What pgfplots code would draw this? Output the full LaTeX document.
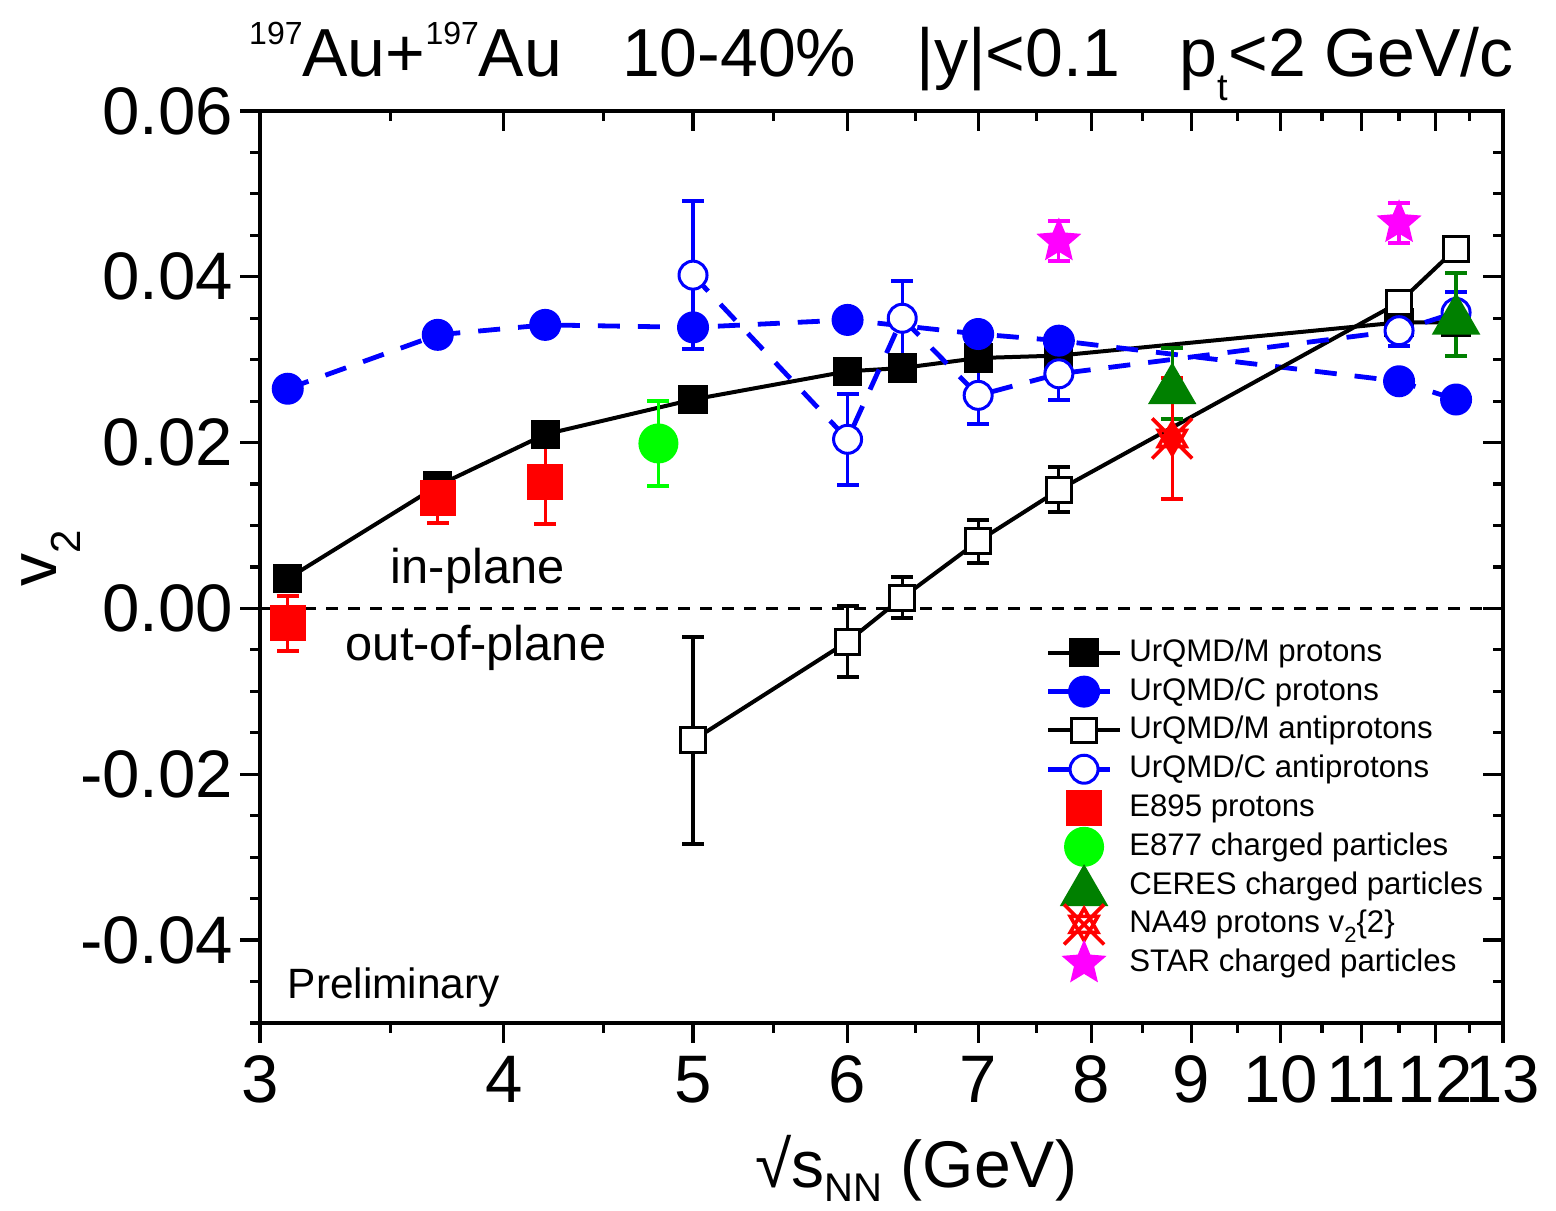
\documentclass[border=0pt]{standalone}
\usepackage{fontspec}
\setmainfont{Liberation Sans}
\usepackage{pgfplots}
\usepackage{pgfplotstable}
\pgfplotsset{compat=1.18}
\usetikzlibrary{plotmarks}

\definecolor{cblue}{RGB}{0,0,255}
\definecolor{cred}{RGB}{255,0,0}
\definecolor{cgreen}{RGB}{0,255,0}
\definecolor{cdgreen}{RGB}{0,128,0}
\definecolor{cmag}{RGB}{255,0,255}

\pgfdeclareplotmark{fstar}{%
  \pgfpathmoveto{\pgfpointpolar{90}{\pgfplotmarksize}}%
  \pgfpathlineto{\pgfpointpolar{126}{0.45\pgfplotmarksize}}%
  \pgfpathlineto{\pgfpointpolar{162}{\pgfplotmarksize}}%
  \pgfpathlineto{\pgfpointpolar{198}{0.45\pgfplotmarksize}}%
  \pgfpathlineto{\pgfpointpolar{234}{\pgfplotmarksize}}%
  \pgfpathlineto{\pgfpointpolar{270}{0.45\pgfplotmarksize}}%
  \pgfpathlineto{\pgfpointpolar{306}{\pgfplotmarksize}}%
  \pgfpathlineto{\pgfpointpolar{342}{0.45\pgfplotmarksize}}%
  \pgfpathlineto{\pgfpointpolar{18}{\pgfplotmarksize}}%
  \pgfpathlineto{\pgfpointpolar{54}{0.45\pgfplotmarksize}}%
  \pgfpathclose
  \pgfusepathqfillstroke
}
\pgfdeclareplotmark{na49}{%
  \pgfpathmoveto{\pgfpoint{-\pgfplotmarksize}{-\pgfplotmarksize}}%
  \pgfpathlineto{\pgfpoint{\pgfplotmarksize}{\pgfplotmarksize}}%
  \pgfpathmoveto{\pgfpoint{-\pgfplotmarksize}{\pgfplotmarksize}}%
  \pgfpathlineto{\pgfpoint{\pgfplotmarksize}{-\pgfplotmarksize}}%
  \pgfpathmoveto{\pgfpointpolar{90}{0.8\pgfplotmarksize}}%
  \pgfpathlineto{\pgfpointpolar{210}{0.8\pgfplotmarksize}}%
  \pgfpathlineto{\pgfpointpolar{330}{0.8\pgfplotmarksize}}%
  \pgfpathclose
  \pgfpathmoveto{\pgfpointpolar{270}{0.8\pgfplotmarksize}}%
  \pgfpathlineto{\pgfpointpolar{30}{0.8\pgfplotmarksize}}%
  \pgfpathlineto{\pgfpointpolar{150}{0.8\pgfplotmarksize}}%
  \pgfpathclose
  \pgfusepathqstroke
}

\pgfplotsset{
  myleg/.style={legend image code/.code={%
    \begin{pgfinterruptboundingbox}%
    \draw[mark repeat=2,mark phase=2,##1] plot coordinates {(0pt,0pt) (9pt,0pt) (18pt,0pt)};%
    \end{pgfinterruptboundingbox}%
    \path[draw=none, fill=none] (0pt,-1pt) rectangle (18pt,1pt);}},
  errplot/.style={forget plot, only marks, mark=none, solid,
    error bars/y dir=both, error bars/y explicit,
    error bars/error bar style={solid, line width=0.8pt},
    error bars/error mark=-, error bars/error mark options={solid, rotate=90, line width=1pt, mark size=2.75pt}},
}

% data tables: x  y  err
\pgfplotstableread{
x y e
5.0  -0.0159 0.0125
6.0  -0.0040 0.0043
6.4   0.0013 0.0025
7.0   0.0081 0.0026
7.7   0.0143 0.0027
11.5  0.0369 0
12.3  0.0434 0
}\mapbar
\pgfplotstableread{
x y e
5.0   0.0402 0.0089
6.0   0.0204 0.0055
6.4   0.0350 0.0045
7.0   0.0257 0.0034
7.7   0.0283 0.0032
11.5  0.0335 0.0018
12.3  0.0357 0.0025
}\capbar
\pgfplotstableread{
x y e
3.1  -0.0018 0.0033
3.7   0.0133 0.0030
4.2   0.0152 0.0050
}\eeight
\pgfplotstableread{
x y e
4.8  0.0199 0.0051
}\eseven
\pgfplotstableread{
x y e
8.8   0.0271 0.0043
12.3  0.0355 0.0050
}\ceres
\pgfplotstableread{
x y e
8.8  0.0205 0.0073
}\nafour
\pgfplotstableread{
x y e
7.7   0.0443 0.0024
11.5  0.0465 0.0024
}\star

\begin{document}
\begin{tikzpicture}
\begin{axis}[name=main,
  scale only axis, width=310.75pt, height=228pt,
  xmode=log, xmin=3, xmax=13, ymin=-0.05, ymax=0.06,
  scaled x ticks=false, scaled y ticks=false,
  xtick={3,4,5,6,7,8,9,10,11,12,13},
  minor xtick={3.5,4.5,5.5,6.5,7.5,8.5,9.5,10.5,11.5,12.5},
  ytick={-0.04,-0.02,0,0.02,0.04,0.06},
  minor ytick={-0.05,-0.045,-0.035,-0.03,-0.025,-0.015,-0.01,-0.005,0.005,0.01,0.015,0.025,0.03,0.035,0.045,0.05,0.055},
  major tick length=5pt, minor tick length=2.5pt,
  every tick/.style={black, line width=0.8pt},
  axis line style={line width=1pt},
  xtick pos=left, ytick pos=left, tick align=outside,
  xticklabels={3,4,5,6,7,8,9,10,11,12,13},
  yticklabels={-0.04,-0.02,0.00,0.02,0.04,0.06},
  ticklabel style={font=\fontsize{16.8}{18}\selectfont},
  yticklabel style={inner sep=0pt, xshift=-1.5pt},
  xticklabel style={inner sep=0pt, yshift=-3pt},
  every axis title shift=0pt,
  title={\raisebox{8pt}{\fontsize{8}{8}\selectfont 197}Au+\raisebox{8pt}{\fontsize{8}{8}\selectfont 197}Au\hspace{15pt}10-40\%\hspace{15pt}|y|<0.1\hspace{15pt}p\raisebox{-6pt}{\fontsize{9.5}{9.5}\selectfont t}<2 GeV/c},
  title style={at={(axis description cs:0.5,1)}, anchor=base, yshift=8.5pt, inner sep=0pt, font=\fontsize{17}{18}\selectfont},
  xlabel={√s\raisebox{-3.5pt}{\fontsize{10}{10}\selectfont NN} (GeV)},
  xlabel style={at={(axis description cs:0.528,0)}, anchor=base, yshift=-41.25pt, inner sep=0pt, font=\fontsize{16.5}{18}\selectfont},
  ylabel={v\raisebox{-6pt}{\fontsize{10.5}{10.5}\selectfont 2}},
  ylabel style={at={(axis description cs:-0.164,0.509)}, anchor=base, inner sep=0pt, font=\fontsize{16.5}{18}\selectfont},
  legend style={at={(axis description cs:0.634,0.4243)}, anchor=north west, draw=none, fill=none, inner sep=0pt, outer sep=0pt,
    font=\fontsize{7.8}{9.4}\selectfont, row sep=1.3pt, column sep=1.8pt,
    nodes={inner sep=0.5pt, text height=5.8pt, text depth=1.6pt}},
  legend cell align=left,
]
% zero line
\addplot[forget plot, black, line width=0.7pt, dash pattern=on 3pt off 2.5pt] coordinates {(3,0) (13,0)};

% UrQMD/M protons
\addplot[black, line width=1pt, mark=square*, mark size=3.4pt, mark options={solid, line width=0.5pt}, myleg]
 coordinates {(3.1,0.0036) (3.7,0.0148) (4.2,0.0210) (5.0,0.0252) (6.0,0.0286) (6.4,0.0290) (7.0,0.0302) (7.7,0.0305) (11.5,0.0345) (12.3,0.0345)};
\addlegendentry{UrQMD/M protons}

% UrQMD/C protons
\addplot[cblue, line width=1.2pt, dash pattern=on 5.5pt off 4.5pt, mark=*, mark size=3.75pt, mark options={solid, line width=0.5pt}, myleg]
 coordinates {(3.1,0.0265) (3.7,0.0330) (4.2,0.0342) (5.0,0.0339) (6.0,0.0348) (7.0,0.0331) (7.7,0.0323) (11.5,0.0274) (12.3,0.0252)};
\addlegendentry{UrQMD/C protons}

% UrQMD/M antiprotons
\addplot[black, errplot] table[x=x, y=y, y error=e] {\mapbar};
\addplot[black, line width=1pt, mark=square*, mark size=3.1pt, mark options={solid, fill=white, line width=0.75pt}, myleg]
 table[x=x, y=y] {\mapbar};
\addlegendentry{UrQMD/M antiprotons}

% UrQMD/C antiprotons
\addplot[cblue, errplot] table[x=x, y=y, y error=e] {\capbar};
\addplot[cblue, line width=1.2pt, dash pattern=on 5.5pt off 4.5pt, mark=*, mark size=3.5pt, mark options={solid, fill=white, line width=0.75pt}, myleg]
 table[x=x, y=y] {\capbar};
\addlegendentry{UrQMD/C antiprotons}

% E895
\addplot[cred, errplot] table[x=x, y=y, y error=e] {\eeight};
\addplot[cred, only marks, mark=square*, mark size=4.25pt, mark options={line width=0.5pt}, myleg]
 table[x=x, y=y] {\eeight};
\addlegendentry{E895 protons}

% E877
\addplot[cgreen, errplot] table[x=x, y=y, y error=e] {\eseven};
\addplot[cgreen, only marks, mark=*, mark size=4.75pt, mark options={line width=0.5pt}, myleg]
 table[x=x, y=y] {\eseven};
\addlegendentry{E877 charged particles}

% CERES
\addplot[cdgreen, errplot] table[x=x, y=y, y error=e] {\ceres};
\addplot[cdgreen, only marks, mark=triangle*, mark size=6.5pt, mark options={line width=0.5pt, yshift=-1.6pt}, myleg]
 table[x=x, y=y] {\ceres};
\addlegendentry{CERES charged particles}

% NA49
\addplot[cred, errplot] table[x=x, y=y, y error=e] {\nafour};
\addplot[cred, only marks, mark=na49, mark size=5pt, mark options={line width=0.9pt}, myleg]
 table[x=x, y=y] {\nafour};
\addlegendentry{NA49 protons v\raisebox{-2.5pt}{\fontsize{5.5}{6}\selectfont 2}\{2\}}

% STAR
\addplot[cmag, errplot] table[x=x, y=y, y error=e] {\star};
\addplot[cmag, only marks, mark=fstar, mark size=5.4pt, mark options={line width=0.4pt}, myleg]
 table[x=x, y=y] {\star};
\addlegendentry{STAR charged particles}

\node[anchor=base west, inner sep=0pt, font=\fontsize{12.2}{14}\selectfont] at (rel axis cs:0.1046,0.4814) {in-plane};
\node[anchor=base west, inner sep=0pt, font=\fontsize{12.2}{14}\selectfont] at (rel axis cs:0.0684,0.398) {out-of-plane};
\node[anchor=base west, inner sep=0pt, font=\fontsize{10.6}{12}\selectfont] at (rel axis cs:0.0217,0.0274) {Preliminary};
\end{axis}

\begin{axis}[at={(main.south west)}, anchor=south west,
  scale only axis, width=310.75pt, height=228pt,
  xmode=log, xmin=3, xmax=13, ymin=-0.05, ymax=0.06,
  scaled x ticks=false, scaled y ticks=false,
  xtick={3,4,5,6,7,8,9,10,11,12,13},
  minor xtick={3.5,4.5,5.5,6.5,7.5,8.5,9.5,10.5,11.5,12.5},
  ytick={-0.04,-0.02,0,0.02,0.04,0.06},
  minor ytick={-0.05,-0.045,-0.035,-0.03,-0.025,-0.015,-0.01,-0.005,0.005,0.01,0.015,0.025,0.03,0.035,0.045,0.05,0.055},
  major tick length=5pt, minor tick length=2.5pt,
  every tick/.style={black, line width=0.8pt},
  axis line style={line width=1pt},
  xtick pos=right, ytick pos=right, tick align=inside,
  xticklabels={}, yticklabels={}]
\addplot[draw=none] coordinates {(5,0)};
\end{axis}

\path (main.south west) ++(-65pt,-47pt) rectangle ++(389pt,302.75pt);
\end{tikzpicture}
\end{document}
